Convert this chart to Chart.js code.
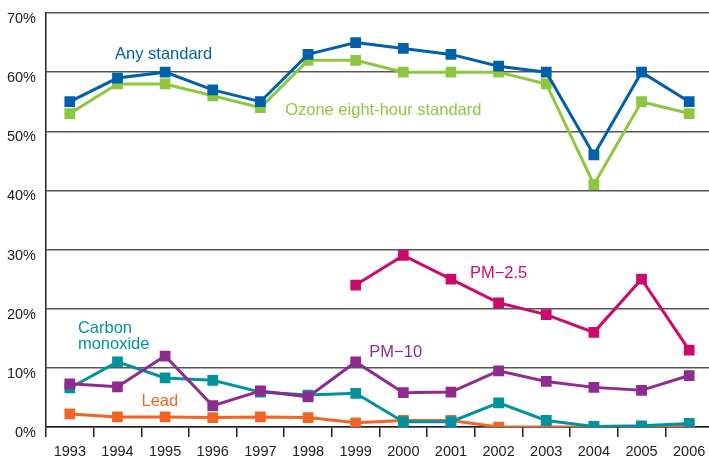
<!DOCTYPE html>
<html>
<head>
<meta charset="utf-8">
<script src="https://cdn.jsdelivr.net/npm/chart.js@4.4.0/dist/chart.umd.min.js"></script>
<style>
  html, body { margin: 0; padding: 0; background: #fff; overflow: hidden; }
  #wrap { width: 713px; height: 459px; }
</style>
</head>
<body>
<div id="wrap"><canvas id="airChart"></canvas></div>
<script>
const years = ['1993', '1994', '1995', '1996', '1997', '1998', '1999', '2000', '2001', '2002', '2003', '2004', '2005', '2006'];
const yTicks = [0, 10, 20, 30, 40, 50, 60, 70];

const anyStandard = [55, 59, 60, 57, 55, 63, 65, 64, 63, 61, 60, 46, 60, 55];
const ozoneEightHour = [53, 58, 58, 56, 54, 62, 62, 60, 60, 60, 58, 41, 55, 53];
const pm25 = [null, null, null, null, null, null, 24, 29, 25, 21, 19, 16, 25, 13];
const pm10 = [7.3, 6.8, 12, 3.6, 6.1, 5.1, 11, 5.8, 5.9, 9.5, 7.7, 6.7, 6.2, 8.7];
const carbonMonoxide = [6.6, 11, 8.3, 7.9, 5.9, 5.4, 5.7, 0.9, 0.9, 4.1, 1.1, 0.1, 0.2, 0.6];
const lead = [2.2, 1.7, 1.7, 1.6, 1.7, 1.6, 0.7, 1.1, 1.1, 0, 0, 0, 0, 0.2];

const colors = {
  any: '#0061aa',
  ozone: '#8dc63f',
  pm25: '#cc0a6c',
  pm10: '#8f2b8f',
  co: '#00939f',
  lead: '#f26424',
};

// series labels placed in data units (category index, value)
const seriesLabels = [
  { text: ['Any standard'], x: 1.97, y: 63.0, color: colors.any, align: 'center' },
  { text: ['Ozone eight-hour standard'], x: 6.58, y: 53.6, color: colors.ozone, align: 'center' },
  { text: ['PM\u22122.5'], x: 9.0, y: 26.0, color: colors.pm25, align: 'center' },
  { text: ['PM\u221210'], x: 6.84, y: 12.6, color: colors.pm10, align: 'center' },
  { text: ['Carbon', 'monoxide'], x: 0.17, y: 16.7, color: colors.co, align: 'left' },
  { text: ['Lead'], x: 1.89, y: 4.3, color: colors.lead, align: 'center' },
];

const labelPlugin = {
  id: 'seriesLabels',
  afterDatasetsDraw(chart) {
    const { ctx, scales: { x, y } } = chart;
    ctx.save();
    ctx.font = '16.5px "Liberation Sans", Arial, sans-serif';
    ctx.textBaseline = 'middle';
    seriesLabels.forEach((l) => {
      const step = x.getPixelForValue(1) - x.getPixelForValue(0);
      const px = x.getPixelForValue(0) + l.x * step;
      const py = y.getPixelForValue(l.y);
      ctx.fillStyle = l.color;
      ctx.textAlign = l.align;
      l.text.forEach((line, i) => ctx.fillText(line, px, py + i * 16.6));
    });
    ctx.restore();
  },
};

function series(label, data, color) {
  return {
    label, data,
    borderColor: color, backgroundColor: color,
    borderWidth: 3,
    pointStyle: 'rect', pointRadius: 7.6, pointBorderWidth: 0,
    pointHoverRadius: 7.6,
    spanGaps: false, tension: 0,
  };
}

new Chart(document.getElementById('airChart'), {
  type: 'line',
  data: {
    labels: years,
    datasets: [
      series('Any standard', anyStandard, colors.any),
      series('Ozone eight-hour standard', ozoneEightHour, colors.ozone),
      series('PM-2.5', pm25, colors.pm25),
      series('PM-10', pm10, colors.pm10),
      series('Carbon monoxide', carbonMonoxide, colors.co),
      series('Lead', lead, colors.lead),
    ],
  },
  options: {
    responsive: true,
    maintainAspectRatio: false,
    animation: false,
    layout: { autoPadding: false, padding: { top: 13, left: 0, right: 0, bottom: 0 } },
    plugins: { legend: { display: false }, tooltip: { enabled: false } },
    scales: {
      x: {
        offset: true,
        afterFit(scale) { scale.height = 32; scale.paddingLeft = 0; scale.paddingRight = 0; },
        grid: { display: true, drawOnChartArea: false, drawTicks: true, tickLength: 10, offset: true, color: '#222', lineWidth: 1.5 },
        border: { display: true, color: '#222', width: 1.5 },
        ticks: { color: '#222', padding: 6, maxRotation: 0, autoSkip: false, font: { family: '"Liberation Sans", Arial, sans-serif', size: 14.5 } },
      },
      y: {
        min: 0, max: 70,
        afterFit(scale) { scale.width = 46; scale.paddingTop = 0; scale.paddingBottom = 0; },
        afterBuildTicks(scale) { scale.ticks = yTicks.map((v) => ({ value: v })); },
        grid: { color: '#555', lineWidth: 1.5, drawTicks: false },
        border: { display: true, color: '#222', width: 1.5 },
        ticks: { color: '#222', padding: 10, labelOffset: 6, callback: (v) => v + '%', font: { family: '"Liberation Sans", Arial, sans-serif', size: 14.5 } },
      },
    },
  },
  plugins: [labelPlugin],
});
</script>
</body>
</html>
